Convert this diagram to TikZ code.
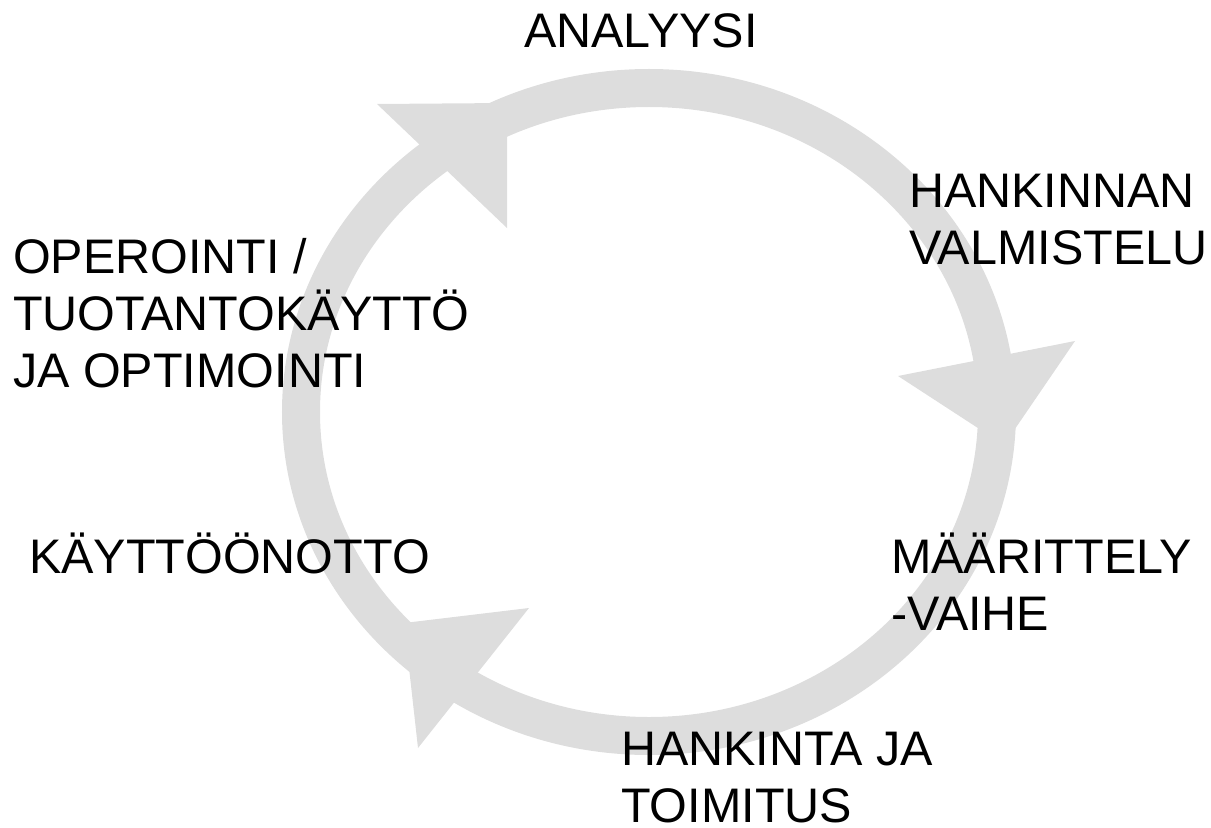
\documentclass[tikz,border=0pt]{standalone}
\usepackage{fontspec}
\setmainfont{Liberation Sans}
\definecolor{ringgray}{RGB}{221,221,221}
\begin{document}
\begin{tikzpicture}[x=1bp,y=-1bp]
			\useasboundingbox (0,0) rectangle (1211,828);
			\tikzstyle{every node}=[anchor=base west, inner sep=0pt, align=left,
			      font=\fontsize{48.5bp}{57bp}\selectfont]
			\tikzstyle{ring}=[draw=ringgray, line width=38bp]
			\tikzstyle{head}=[fill=ringgray]
			% kehä
			\path[ring] (649,412) ellipse [x radius=348bp, y radius=324bp];
			% nuolenkärjet
			\fill[head] (377,104) -- (507,103) -- (507,228) -- cycle;
			\fill[head] (898,376) -- (1075,341) -- (1004,445) -- cycle;
			\fill[head] (529,608) -- (418,748) -- (404,623) -- cycle;
			% vaiheet (monirivisissä kohta = viimeisen rivin perusviiva)
			\path (524,47) node (analyysi) {ANALYYSI}
			      (909,264) node (valmistelu) {HANKINNAN\\VALMISTELU}
			      (891,630) node (maarittely) {MÄÄRITTELY\\-VAIHE}
			      (621,822) node (hankinta) {HANKINTA JA\\TOIMITUS}
			      (29,573) node (kayttoonotto) {KÄYTTÖÖNOTTO}
			      (13,387) node (operointi) {OPEROINTI /\\TUOTANTOKÄYTTÖ\\JA OPTIMOINTI};
		\end{tikzpicture}
\end{document}
